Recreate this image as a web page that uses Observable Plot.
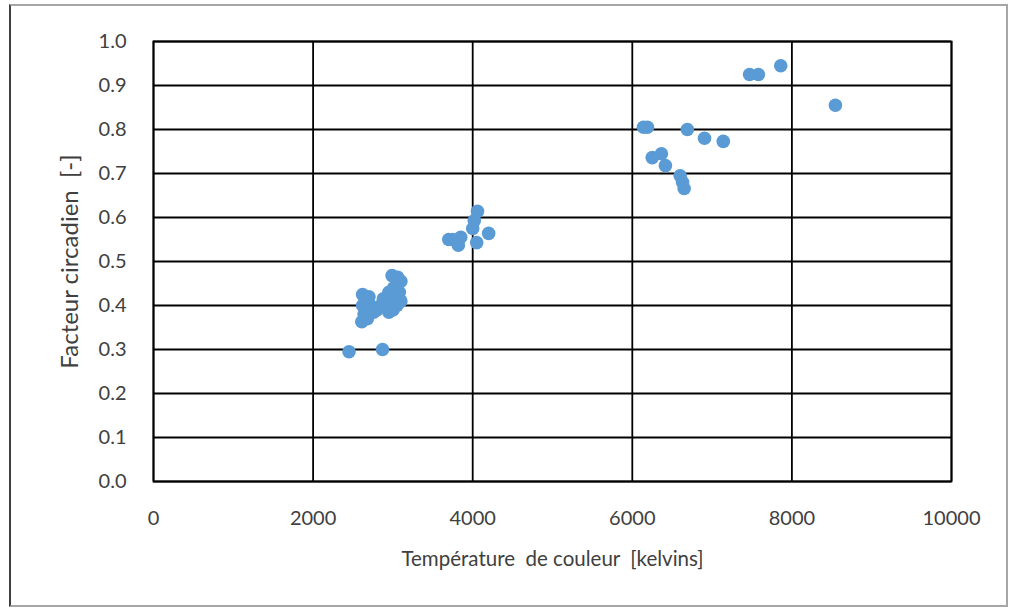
<!DOCTYPE html>
<html>
<head>
<meta charset="utf-8">
<script src="https://cdn.jsdelivr.net/npm/d3@7"></script>
<script src="https://cdn.jsdelivr.net/npm/@observablehq/plot@0.6"></script>
<style>
  html, body { margin: 0; padding: 0; background: #fff; }
  #wrap { position: relative; width: 1012px; height: 611px; overflow: hidden; }
  #border { position: absolute; left: 9px; top: 4px; width: 999px; height: 603px;
            border: 2px solid #a6a6a6; border-left: 2px solid #404040; box-sizing: border-box; }
  #chart { position: absolute; left: 0; top: 0; }
</style>
</head>
<body>
<div id="wrap"><div id="border"></div><div id="chart"></div></div>
<script>
// Colour temperature [K]
const temperature = [
  2450, 2870,
  2620, 2620, 2640, 2610, 2680, 2700, 2720, 2760, 2800, 2850, 2880, 2920,
  2950, 2980, 3000, 3010, 2990, 3060, 3100, 3080, 3100, 3050, 2950,
  3700, 3750, 3800, 3850, 3820, 4060, 4020, 4000, 4200, 4050,
  6140, 6190, 6690, 6905, 7140, 6250, 6365, 6415, 6600, 6630, 6650,
  7470, 7580, 7860, 8545
];
// Circadian factor [-]
const factor = [
  0.295, 0.300,
  0.425, 0.400, 0.380, 0.363, 0.370, 0.420, 0.400, 0.385, 0.390, 0.400, 0.415, 0.395,
  0.430, 0.410, 0.390, 0.440, 0.468, 0.464, 0.455, 0.430, 0.410, 0.400, 0.385,
  0.550, 0.550, 0.545, 0.555, 0.537, 0.614, 0.593, 0.575, 0.564, 0.543,
  0.805, 0.805, 0.800, 0.780, 0.773, 0.736, 0.745, 0.718, 0.695, 0.680, 0.666,
  0.925, 0.925, 0.945, 0.855
];
const xTicks = [0, 2000, 4000, 6000, 8000, 10000];
const yTicks = [0, 0.1, 0.2, 0.3, 0.4, 0.5, 0.6, 0.7, 0.8, 0.9, 1.0];
const xTitle = "Température  de couleur  [kelvins]";
const yTitle = "Facteur circadien  [-]";

const data = temperature.map((t, i) => ({t, f: factor[i]}));

const chart = Plot.plot({
  width: 1012,
  height: 611,
  marginLeft: 153,
  marginRight: 61,
  marginTop: 41,
  marginBottom: 130,
  style: {fontFamily: "Lato, 'Open Sans', sans-serif", fontSize: "20px", color: "#404040", background: "transparent"},
  x: {domain: [0, 10000], ticks: xTicks},
  y: {domain: [0, 1], ticks: yTicks},
  marks: [
    Plot.gridX(xTicks, {stroke: "#000", strokeOpacity: 1, strokeWidth: 1.8}),
    Plot.gridY(yTicks, {stroke: "#000", strokeOpacity: 1, strokeWidth: 1.8}),
    Plot.frame({stroke: "#000", strokeWidth: 1.8}),
    Plot.axisX(xTicks, {tickSize: 0, tickPadding: 29, tickFormat: d => String(d), label: null, fill: "#404040", fontSize: 20}),
    Plot.axisY(yTicks, {tickSize: 0, tickPadding: 27, tickFormat: d3.format(".1f"), label: null, fill: "#404040", fontSize: 20}),
    Plot.text([xTitle], {frameAnchor: "bottom", dy: 84, textAnchor: "middle", fill: "#404040", fontSize: 20.5, text: d => d}),
    Plot.text([yTitle], {frameAnchor: "left", dx: -83, rotate: -90, textAnchor: "middle", lineAnchor: "middle", fill: "#404040", fontSize: 24, text: d => d}),
    Plot.dot(data, {x: "t", y: "f", r: 6.8, fill: "#5b9bd5", stroke: "none"})
  ]
});
document.getElementById("chart").appendChild(chart);
</script>
</body>
</html>
